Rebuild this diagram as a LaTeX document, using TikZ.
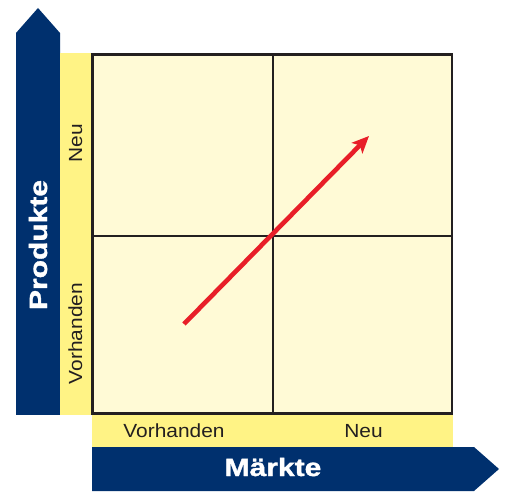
\documentclass[tikz,border=0pt]{standalone}
\usepackage{fontspec}
\setmainfont{Liberation Sans}
\newfontfamily\heavyfont[FakeBold=1.2]{Liberation Sans Bold}
\usetikzlibrary{arrows.meta}
\definecolor{navy}{RGB}{0,48,110}
\definecolor{strip}{RGB}{255,243,133}
\definecolor{cell}{RGB}{255,250,214}
\definecolor{frame}{RGB}{35,31,32}
\definecolor{redarrow}{RGB}{232,30,40}
\newcommand{\axtext}[1]{\scalebox{1.2}[1]{#1}}
\newcommand{\cattext}[1]{\scalebox{1.1}[1]{#1}}
\tikzset{
  axislabel/.style={text=white, font=\fontsize{25}{25}\selectfont\heavyfont, inner sep=0pt},
  catlabel/.style={text=frame, font=\fontsize{19}{19}\selectfont, inner sep=0pt},
  gridline/.style={draw=frame, line width=2.4pt},
}
\begin{document}
\begin{tikzpicture}[x=1pt,y=-1pt]
\useasboundingbox (0,0) rectangle (507,492);
% blue axis arrows
\fill[navy] (16,415) -- (16,33) -- (38,8) -- (60,33) -- (60,415) -- cycle;
\fill[navy] (92,447) -- (474,447) -- (499,469) -- (474,491) -- (92,491) -- cycle;
% yellow strips
\fill[strip] (60,53) rectangle (92,415);
\fill[strip] (92,414) rectangle (453,447);
% matrix
\fill[cell] (92.5,54.5) rectangle (452,413.5);
\draw[gridline] (273,54.5) -- (273,413.5);
\draw[gridline] (92.5,236) -- (452,236);
\draw[gridline] (92.5,54.5) rectangle (452,413.5);
% red arrow
\coordinate (start) at (184,324);
\coordinate (end) at (369,136);
\draw[redarrow, line width=4.6pt, -{Stealth[length=17pt,width=15pt,inset=4pt]}] (start) -- (end);
% labels
\node[axislabel, anchor=base] (maerkte) at (273,476) {\axtext{Märkte}};
\node[axislabel, anchor=base, rotate=90] (produkte) at (47,245) {\axtext{Produkte}};
\node[catlabel, anchor=base] (mvor) at (174,437) {\cattext{Vorhanden}};
\node[catlabel, anchor=base] (mneu) at (363.5,437) {\cattext{Neu}};
\node[catlabel, anchor=base, rotate=90] (pvor) at (82,333.5) {\cattext{Vorhanden}};
\node[catlabel, anchor=base, rotate=90] (pneu) at (82,143) {\cattext{Neu}};
\end{tikzpicture}
\end{document}
